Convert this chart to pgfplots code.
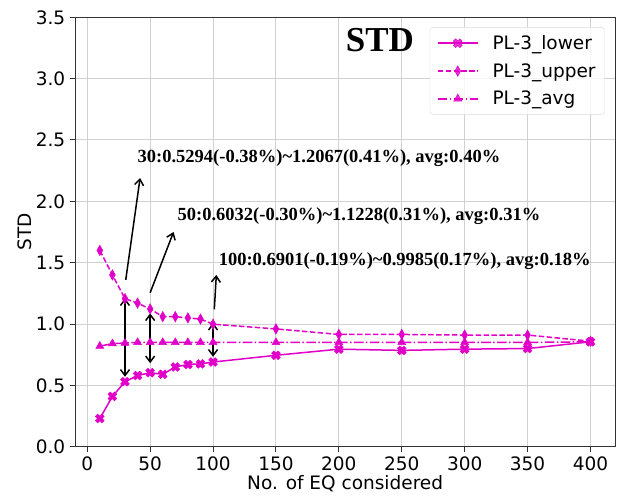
\documentclass[border=0pt]{standalone}
\usepackage{pgfplots}
\pgfplotsset{compat=1.18}
\usepackage{fontspec}
\setmainfont{DejaVu Sans}
\newfontfamily\timesfont{Liberation Serif}
\usetikzlibrary{arrows.meta}
\definecolor{mag}{RGB}{225,0,200}
\pgfdeclareplotmark{Xf}{%
  \pgftransformrotate{45}%
  \pgfpathmoveto{\pgfpoint{0.35\pgfplotmarksize}{\pgfplotmarksize}}%
  \pgfpathlineto{\pgfpoint{0.35\pgfplotmarksize}{0.35\pgfplotmarksize}}%
  \pgfpathlineto{\pgfpoint{\pgfplotmarksize}{0.35\pgfplotmarksize}}%
  \pgfpathlineto{\pgfpoint{\pgfplotmarksize}{-0.35\pgfplotmarksize}}%
  \pgfpathlineto{\pgfpoint{0.35\pgfplotmarksize}{-0.35\pgfplotmarksize}}%
  \pgfpathlineto{\pgfpoint{0.35\pgfplotmarksize}{-\pgfplotmarksize}}%
  \pgfpathlineto{\pgfpoint{-0.35\pgfplotmarksize}{-\pgfplotmarksize}}%
  \pgfpathlineto{\pgfpoint{-0.35\pgfplotmarksize}{-0.35\pgfplotmarksize}}%
  \pgfpathlineto{\pgfpoint{-\pgfplotmarksize}{-0.35\pgfplotmarksize}}%
  \pgfpathlineto{\pgfpoint{-\pgfplotmarksize}{0.35\pgfplotmarksize}}%
  \pgfpathlineto{\pgfpoint{-0.35\pgfplotmarksize}{0.35\pgfplotmarksize}}%
  \pgfpathlineto{\pgfpoint{-0.35\pgfplotmarksize}{\pgfplotmarksize}}%
  \pgfpathclose
  \pgfusepathqfillstroke
}
\begin{document}
\begin{tikzpicture}
\useasboundingbox (-75.3pt,-51.3pt) rectangle (546.7pt,446.7pt);
\begin{axis}[
  at={(0pt,0pt)}, anchor=south west,
  scale only axis, width=539.7pt, height=429.4pt,
  xmin=-9.5, xmax=419.5, ymin=0, ymax=3.5,
  xtick={0,50,...,400}, ytick={0,0.5,...,3.5},
  yticklabel style={/pgf/number format/fixed, /pgf/number format/fixed zerofill, /pgf/number format/precision=1, xshift=-1pt},
  /pgf/number format/assume math mode=true,
  tick label style={font=\fontsize{18.5}{20}\selectfont},
  label style={font=\fontsize{18.5}{20}\selectfont},
  xlabel={No. of EQ considered}, ylabel={STD},
  xlabel style={at={(axis description cs:0.5,0)}, anchor=base, yshift=-43.3pt},
  ylabel style={at={(axis description cs:0,0.5)}, anchor=base, yshift=43.6pt},
  tick align=outside, tick pos=left,
  major tick length=5.5pt,
  every tick/.style={black!80, line width=1pt},
  axis line style={black!80, line width=1pt},
  grid=major, major grid style={black!18, line width=1pt},
  xticklabel style={yshift=-1pt},
  legend style={at={(rel axis cs:0.981,0.977)}, anchor=north east,
    draw=black!15, rounded corners=3pt, fill=white, fill opacity=0.8, text opacity=1,
    font=\fontsize{18.5}{20}\selectfont, row sep=8.5pt, inner xsep=7pt, inner ysep=6pt},
  legend cell align=left,
  legend image code/.code={\draw[mark repeat=2,mark phase=2,#1] plot coordinates {(0pt,0pt) (20pt,0pt) (40pt,0pt)};\path (0pt,0pt) (52pt,0pt);},
]
\addplot[mag, line width=1.5pt, mark=Xf, mark size=4.6pt, mark options={solid, fill=mag, line width=0.5pt}]
  coordinates {(10,0.23)(20,0.41)(30,0.5294)(40,0.58)(50,0.6032)(60,0.59)(70,0.65)(80,0.67)(90,0.675)(100,0.6901)(150,0.745)(200,0.795)(250,0.785)(300,0.795)(350,0.80)(400,0.855)};
\addlegendentry{PL-3\_lower}
\addplot[mag, line width=1.5pt, dash pattern=on 5.5pt off 2.4pt, mark=diamond*, mark size=5.2pt, mark options={solid, fill=mag, xscale=0.74, line width=0.5pt}]
  coordinates {(10,1.60)(20,1.40)(30,1.2067)(40,1.17)(50,1.1228)(60,1.06)(70,1.06)(80,1.05)(90,1.04)(100,0.9985)(150,0.96)(200,0.915)(250,0.915)(300,0.91)(350,0.91)(400,0.86)};
\addlegendentry{PL-3\_upper}
\addplot[mag, line width=1.5pt, dash pattern=on 9.6pt off 2.4pt on 1.5pt off 2.4pt, mark=triangle*, mark size=4.6pt, mark options={solid, fill=mag, line width=0.5pt}]
  coordinates {(10,0.82)(20,0.84)(30,0.845)(40,0.85)(50,0.85)(60,0.85)(70,0.85)(80,0.85)(90,0.85)(100,0.85)(150,0.85)(200,0.85)(250,0.85)(300,0.85)(350,0.85)(400,0.855)};
\addlegendentry{PL-3\_avg}

\draw[line width=1.5pt, -{Straight Barb[length=6pt,width=9pt]}] (axis cs:30.6,1.36) -- (axis cs:42,2.19);
\draw[line width=1.5pt, -{Straight Barb[length=6pt,width=9pt]}] (axis cs:50,1.255) -- (axis cs:68.6,1.75);
\draw[line width=1.5pt, -{Straight Barb[length=6pt,width=9pt]}] (axis cs:101,1.12) -- (axis cs:102.6,1.40);
\draw[line width=1.5pt, {Straight Barb[length=6pt,width=9pt]}-{Straight Barb[length=6pt,width=9pt]}] (axis cs:30,1.21) -- (axis cs:30,0.57);
\draw[line width=1.5pt, {Straight Barb[length=6pt,width=9pt]}-{Straight Barb[length=6pt,width=9pt]}] (axis cs:50,1.087) -- (axis cs:50,0.68);
\draw[line width=1.5pt, {Straight Barb[length=6pt,width=9pt]}-{Straight Barb[length=6pt,width=9pt]}] (axis cs:100,1.01) -- (axis cs:100,0.733);

\node[anchor=base west, inner sep=0pt, font=\timesfont\bfseries\fontsize{18.5}{20}\selectfont] at (axis cs:39.9,2.315) {30:0.5294(-0.38\%)\textasciitilde1.2067(0.41\%), avg:0.40\%};
\node[anchor=base west, inner sep=0pt, font=\timesfont\bfseries\fontsize{18.5}{20}\selectfont] at (axis cs:71.7,1.842) {50:0.6032(-0.30\%)\textasciitilde1.1228(0.31\%), avg:0.31\%};
\node[anchor=base west, inner sep=0pt, font=\timesfont\bfseries\fontsize{18.5}{20}\selectfont] at (axis cs:104.4,1.481) {100:0.6901(-0.19\%)\textasciitilde0.9985(0.17\%), avg:0.18\%};
\node[anchor=base west, inner sep=0pt, font=\timesfont\bfseries\fontsize{35}{38}\selectfont] at (axis cs:205.4,3.219) {STD};
\end{axis}
\end{tikzpicture}
\end{document}
